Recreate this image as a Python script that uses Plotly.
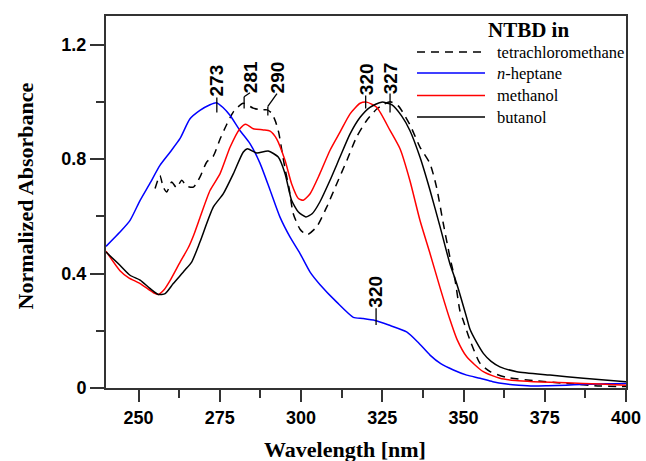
import plotly.graph_objects as go

# ---------------- data ----------------
wl_ccl4 = [255.1, 256.6, 257.6, 258.7, 260.2, 261.7, 263.3, 264.8, 266.9, 268.9, 271, 273, 275.1,
           277.1, 279.2, 282.2, 285.3, 287.5, 289.6, 291, 292.2, 293.2, 294.1, 295.2, 296.3, 297.6,
           299.7, 301.8, 304.8, 307.9, 311, 314.1, 317.1, 320.2, 323.3, 325.5, 327.5, 330, 333.5,
           336.6, 339.7, 341.7, 343.8, 345.8, 347.4, 348.9, 349.9, 352, 355.1, 358.2, 363.3, 371.5,
           381.7, 392, 400]
abs_ccl4 = [0.697, 0.743, 0.702, 0.685, 0.72, 0.70, 0.726, 0.705, 0.702, 0.737, 0.79, 0.81, 0.87,
            0.92, 0.965, 0.995, 0.978, 0.972, 0.972, 0.96, 0.93, 0.89, 0.83, 0.76, 0.70, 0.61,
            0.555, 0.535, 0.563, 0.632, 0.714, 0.795, 0.877, 0.935, 0.975, 0.992, 1.0, 0.985, 0.92,
            0.842, 0.784, 0.702, 0.574, 0.458, 0.377, 0.27, 0.237, 0.167, 0.086, 0.057, 0.037, 0.026,
            0.016, 0.007, 0.005]

wl_hept = [240, 244.3, 247.4, 250.5, 253.5, 256.6, 259.7, 262.8, 265.8, 268.9, 272, 274, 276,
           278.2, 281.2, 284.3, 287.4, 290.5, 293.5, 296.6, 299.7, 302.8, 305.8, 311, 316.1, 319,
           322.8, 327, 332.5, 336, 339.7, 343, 346.9, 351, 355.1, 359, 363.3, 367, 371.4, 376,
           381.7, 386, 392, 396, 400]
abs_hept = [0.495, 0.545, 0.586, 0.656, 0.715, 0.778, 0.824, 0.872, 0.94, 0.97, 0.99, 0.997, 0.98,
            0.952, 0.900, 0.854, 0.785, 0.691, 0.598, 0.528, 0.47, 0.405, 0.362, 0.30, 0.247, 0.243,
            0.236, 0.22, 0.196, 0.16, 0.115, 0.085, 0.063, 0.045, 0.034, 0.022, 0.014, 0.01, 0.007,
            0.008, 0.010, 0.012, 0.014, 0.015, 0.016]

wl_meoh = [240, 244.3, 247, 250.5, 254.6, 256.1, 258, 259.7, 262.8, 265.3, 267, 268.9, 272, 275.1,
           278.2, 281.2, 283, 285.3, 288.4, 290.5, 292.5, 295.1, 297.1, 299.2, 300.7, 302.8, 305.8,
           308.9, 312, 315.1, 318.2, 320.2, 323.3, 327.4, 330.5, 333.5, 336.6, 339.7, 342.8, 345.8,
           348, 351, 356.1, 361.2, 366, 371.5, 381.7, 392, 400]
abs_meoh = [0.478, 0.41, 0.385, 0.365, 0.333, 0.327, 0.345, 0.375, 0.44, 0.49, 0.535, 0.595, 0.69,
            0.749, 0.842, 0.906, 0.922, 0.906, 0.902, 0.898, 0.871, 0.795, 0.714, 0.662, 0.656, 0.679,
            0.749, 0.83, 0.894, 0.958, 0.995, 0.999, 0.981, 0.90, 0.835, 0.725, 0.586, 0.47, 0.35,
            0.24, 0.17, 0.109, 0.057, 0.034, 0.026, 0.022, 0.018, 0.014, 0.010]

wl_buoh = [240, 244.3, 247.4, 250.5, 253.5, 256.1, 258.2, 260.7, 264.3, 266.4, 268.9, 273, 276.1,
           279.2, 282.2, 283.5, 286.4, 289.9, 293, 295.1, 297.1, 299.2, 301.5, 303.5, 305.8, 308.9,
           312, 315.1, 318.2, 321.2, 324.8, 327.9, 331, 333.5, 336.6, 339.7, 342.8, 345.8, 347.9,
           351, 352, 354, 356.1, 358.5, 361.2, 366.4, 376.6, 386.9, 400]
abs_buoh = [0.475, 0.429, 0.394, 0.377, 0.348, 0.327, 0.33, 0.365, 0.412, 0.441, 0.51, 0.632, 0.679,
            0.749, 0.824, 0.836, 0.821, 0.828, 0.807, 0.749, 0.656, 0.615, 0.598, 0.61, 0.65, 0.725,
            0.807, 0.888, 0.946, 0.981, 0.999, 0.99, 0.95, 0.90, 0.807, 0.691, 0.563, 0.435, 0.365,
            0.245, 0.205, 0.16, 0.121, 0.093, 0.074, 0.057, 0.045, 0.034, 0.022]

series_names = ["tetrachloromethane", "<i>n</i>-heptane", "methanol", "butanol"]
series_colors = ["black", "#0000ff", "#ff0000", "black"]
series_dash = ["8px,6px", "solid", "solid", "solid"]
series_x = [wl_ccl4, wl_hept, wl_meoh, wl_buoh]
series_y = [abs_ccl4, abs_hept, abs_meoh, abs_buoh]

legend_title = "NTBD in"

# peak labels: (text, label x, label y, leader line points)
peak_labels = [
    ("273", 274.1, 1.074, [(274.1, 0.963), (274.1, 1.015)]),
    ("281", 284.5, 1.085, [(282.5, 0.977), (282.5, 1.018), (284.3, 1.032)]),
    ("290", 292.9, 1.085, [(289.8, 0.952), (289.8, 0.984), (292.6, 1.029)]),
    ("320", 320.2, 1.078, [(319.9, 0.977), (319.9, 1.022)]),
    ("327", 327.6, 1.081, [(327.4, 0.963), (327.4, 1.029)]),
    ("320", 322.8, 0.337, [(323.1, 0.22), (323.1, 0.279)]),
]

# ---------------- figure ----------------
W, H = 646, 461
ML, MR, MT, MB = 106, 20, 16, 73
PW, PH = W - ML - MR, H - MT - MB


def pxx(px):
    return (px - ML) / PW


def pxy(py):
    return (H - MB - py) / PH


SANS = "Liberation Sans, Arial, sans-serif"
SERIF = "Liberation Serif, Times New Roman, serif"

fig = go.Figure()
for name, c, d, xs, ys in zip(series_names, series_colors, series_dash, series_x, series_y):
    fig.add_trace(go.Scatter(x=xs, y=ys, mode="lines", name=name, showlegend=False,
                             line=dict(color=c, width=1.5, dash=d, shape="spline", smoothing=0.6)))

shapes = []
annotations = []

# peak labels and leader lines
for txt, lx, ly, pts in peak_labels:
    for (x0, y0), (x1, y1) in zip(pts[:-1], pts[1:]):
        shapes.append(dict(type="line", xref="x", yref="y", x0=x0, y0=y0, x1=x1, y1=y1,
                           line=dict(color="black", width=1.3)))
    annotations.append(dict(x=lx, y=ly, xref="x", yref="y", text=txt, showarrow=False,
                            textangle=-90, xanchor="center", yanchor="middle",
                            font=dict(family=SANS, size=19, color="black", weight="bold")))

# legend (drawn manually)
annotations.append(dict(x=pxx(528), y=pxy(30), xref="paper", yref="paper", text="<b>" + legend_title + "</b>",
                        showarrow=False, xanchor="center", yanchor="middle",
                        font=dict(family=SERIF, size=21, color="black")))
leg_y = [52, 73, 95.5, 117]
for name, c, d, yy in zip(series_names, series_colors, series_dash, leg_y):
    shapes.append(dict(type="line", xref="paper", yref="paper", x0=pxx(417), x1=pxx(485),
                       y0=pxy(yy), y1=pxy(yy), line=dict(color=c, width=1.5, dash=d)))
    annotations.append(dict(x=pxx(495), y=pxy(yy), xref="paper", yref="paper", text=name,
                            showarrow=False, xanchor="left", yanchor="middle",
                            font=dict(family=SERIF, size=16.5, color="black")))

# axis titles
annotations.append(dict(x=pxx(345), y=pxy(449), xref="paper", yref="paper", text="<b>Wavelength [nm]</b>",
                        showarrow=False, xanchor="center", yanchor="middle",
                        font=dict(family=SERIF, size=22, color="black")))
annotations.append(dict(x=pxx(25), y=pxy(196.5), xref="paper", yref="paper",
                        text="<b>Normalized Absorbance</b>", textangle=-90,
                        showarrow=False, xanchor="center", yanchor="middle",
                        font=dict(family=SERIF, size=22, color="black")))

axis_common = dict(showline=True, mirror=True, linecolor="#333333", linewidth=2,
                   ticks="outside", tickcolor="#333333", tickwidth=2,
                   showgrid=False, zeroline=False, automargin=False,
                   tickfont=dict(family=SANS, size=18, color="black", weight="bold"))

fig.update_layout(
    width=W, height=H,
    margin=dict(l=ML, r=MR, t=MT, b=MB, autoexpand=False),
    paper_bgcolor="white", plot_bgcolor="white",
    showlegend=False,
    shapes=shapes, annotations=annotations,
    xaxis=dict(range=[240, 400], tick0=250, dtick=25, ticklen=12,
               minor=dict(tick0=250, dtick=12.5, ticklen=8, ticks="outside", tickwidth=2, tickcolor="#333333"),
               **axis_common),
    yaxis=dict(range=[0, 1.3], tick0=0, dtick=0.4, ticklen=14,
               minor=dict(tick0=0, dtick=0.2, ticklen=8, ticks="outside", tickwidth=2, tickcolor="#333333"),
               **axis_common),
)

fig.write_html("out.html")
